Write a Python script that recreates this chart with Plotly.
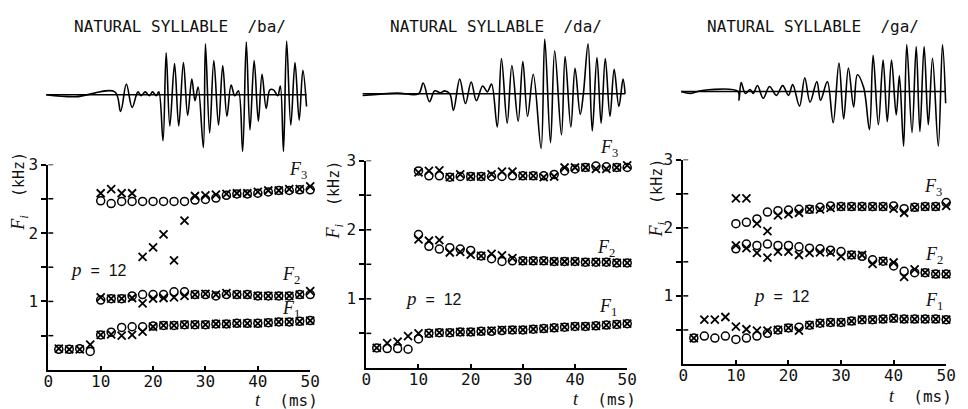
import plotly.graph_objects as go

# ---------------------------------------------------------------- data
T_MS = [2, 4, 6, 8, 10, 12, 14, 16, 18, 20, 22, 24, 26, 28, 30, 32, 34, 36, 38, 40, 42, 44, 46, 48, 50]

# /ba/  (o = circles, x = crosses), formant frequencies in kHz
BA_F1_O = [0.30, 0.30, 0.31, 0.27, 0.51, 0.55, 0.62, 0.63, 0.63, 0.64, 0.65, 0.65, 0.66, 0.66, 0.66, 0.67, 0.67, 0.68, 0.68, 0.68, 0.69, 0.70, 0.70, 0.71, 0.72]
BA_F1_X = [0.31, 0.30, 0.30, 0.37, 0.51, 0.52, 0.50, 0.51, 0.56, 0.63, 0.65, 0.65, 0.66, 0.66, 0.66, 0.67, 0.67, 0.68, 0.68, 0.68, 0.69, 0.70, 0.70, 0.71, 0.72]
BA_F2_O = [None, None, None, None, 1.02, 1.04, 1.04, 1.08, 1.10, 1.10, 1.10, 1.14, 1.14, 1.10, 1.10, 1.08, 1.10, 1.10, 1.10, 1.08, 1.08, 1.08, 1.08, 1.10, 1.10]
BA_F2_X = [None, None, None, None, 1.06, 1.04, 1.04, 1.05, 0.97, 1.04, 1.05, 1.06, 1.08, 1.10, 1.11, 1.10, 1.12, 1.10, 1.10, 1.08, 1.08, 1.08, 1.08, 1.10, 1.15]
BA_F3_O = [None, None, None, None, 2.47, 2.43, 2.46, 2.46, 2.46, 2.46, 2.46, 2.46, 2.46, 2.48, 2.49, 2.51, 2.55, 2.57, 2.57, 2.58, 2.60, 2.62, 2.62, 2.63, 2.63]
BA_F3_X = [None, None, None, None, 2.58, 2.64, 2.58, 2.58, 1.65, 1.79, 1.98, 1.60, 2.18, 2.54, 2.55, 2.56, 2.57, 2.58, 2.58, 2.60, 2.62, 2.62, 2.64, 2.64, 2.68]

# /da/
DA_F1_O = [0.29, 0.28, 0.28, 0.27, 0.42, 0.50, 0.51, 0.51, 0.52, 0.52, 0.53, 0.53, 0.54, 0.55, 0.55, 0.56, 0.57, 0.58, 0.59, 0.60, 0.60, 0.61, 0.62, 0.63, 0.64]
DA_F1_X = [0.29, 0.36, 0.38, 0.46, 0.50, 0.50, 0.51, 0.51, 0.52, 0.52, 0.53, 0.54, 0.55, 0.55, 0.55, 0.56, 0.57, 0.58, 0.59, 0.60, 0.60, 0.61, 0.62, 0.63, 0.64]
DA_F2_O = [None, None, None, None, 1.93, 1.76, 1.72, 1.74, 1.72, 1.70, 1.62, 1.58, 1.54, 1.55, 1.55, 1.55, 1.55, 1.54, 1.54, 1.54, 1.53, 1.53, 1.53, 1.52, 1.52]
DA_F2_X = [None, None, None, None, 1.86, 1.84, 1.85, 1.67, 1.68, 1.64, 1.62, 1.65, 1.63, 1.59, 1.55, 1.55, 1.55, 1.54, 1.54, 1.54, 1.53, 1.53, 1.53, 1.52, 1.52]
DA_F3_O = [None, None, None, None, 2.85, 2.78, 2.78, 2.76, 2.77, 2.77, 2.77, 2.77, 2.77, 2.78, 2.78, 2.78, 2.78, 2.80, 2.85, 2.88, 2.90, 2.92, 2.91, 2.90, 2.90]
DA_F3_X = [None, None, None, None, 2.83, 2.85, 2.86, 2.76, 2.80, 2.77, 2.77, 2.80, 2.84, 2.84, 2.78, 2.78, 2.76, 2.77, 2.90, 2.90, 2.90, 2.88, 2.88, 2.90, 2.93]

# /ga/
GA_F1_O = [0.38, 0.41, 0.38, 0.41, 0.36, 0.38, 0.41, 0.45, 0.50, 0.53, 0.54, 0.57, 0.60, 0.61, 0.61, 0.63, 0.65, 0.65, 0.66, 0.67, 0.66, 0.66, 0.66, 0.66, 0.65]
GA_F1_X = [0.38, 0.65, 0.65, 0.69, 0.55, 0.51, 0.49, 0.49, 0.50, 0.53, 0.49, 0.57, 0.60, 0.61, 0.61, 0.63, 0.65, 0.65, 0.66, 0.67, 0.66, 0.66, 0.66, 0.66, 0.65]
GA_F2_O = [None, None, None, None, 1.69, 1.76, 1.74, 1.76, 1.74, 1.74, 1.72, 1.70, 1.69, 1.67, 1.65, 1.60, 1.58, 1.53, 1.51, 1.44, 1.36, 1.34, 1.34, 1.32, 1.32]
GA_F2_X = [None, None, None, None, 1.74, 1.70, 1.63, 1.56, 1.65, 1.65, 1.60, 1.63, 1.64, 1.64, 1.58, 1.60, 1.60, 1.47, 1.51, 1.49, 1.28, 1.39, 1.34, 1.32, 1.32]
GA_F3_O = [None, None, None, None, 2.06, 2.08, 2.13, 2.23, 2.25, 2.26, 2.27, 2.27, 2.30, 2.32, 2.31, 2.31, 2.31, 2.31, 2.31, 2.32, 2.28, 2.30, 2.31, 2.31, 2.37]
GA_F3_X = [None, None, None, None, 2.43, 2.43, 2.06, 1.95, 2.18, 2.20, 2.22, 2.27, 2.27, 2.29, 2.31, 2.31, 2.31, 2.31, 2.31, 2.28, 2.22, 2.30, 2.31, 2.31, 2.32]

# speech waveforms: turning points (time in ms, relative amplitude)
BA_WAVE_T = [-0.4, 5.2, 12.7, 13.8, 14.9, 16.0, 17.1, 17.7, 18.5, 19.3, 19.9, 20.6, 21.1, 21.9, 22.5, 23.2, 24.1, 24.9, 25.8, 26.6,
             27.4, 28.0, 28.6, 29.6, 30.0, 30.8, 31.6, 32.5, 33.3, 34.1, 34.9, 35.6, 36.3, 37.1, 37.8, 38.5, 39.3, 40.1, 40.8, 41.6,
             42.3, 43.0, 43.8, 44.3, 44.9, 45.5, 46.3, 47.1, 47.9, 48.6, 49.3]
BA_WAVE_A = [0, -2, 3, -17, 11, -13, 3, -1, 3, -1, 3, -1, 3, -47, 43, -32, 32, -32, 33, -21,
             16, -6, 8, -54, 52, -39, 35, -31, 30, -22, 10, -1, 4, -58, 54, -36, 35, -27, 21, -14,
             5, 5, -1, 9, -58, 55, -31, 33, -26, 25, -12]

DA_WAVE_T = [-0.7, 5.9, 10.0, 10.9, 12.1, 13.1, 14.2, 15.0, 16.0, 16.7, 17.9, 19.0, 20.1, 21.1, 22.3, 23.2, 24.0, 25.1, 25.9, 27.0,
             27.9, 29.1, 30.0, 30.9, 32.0, 33.5, 34.2, 35.3, 36.1, 37.4, 38.1, 39.2, 40.0, 41.0, 41.6, 42.5, 43.3, 44.2, 45.0, 45.8,
             46.7, 47.5, 48.4, 49.2, 49.6]
DA_WAVE_A = [-1.7, 0.7, 0, 11, -8, 3, 1, 3, 0, -17, 15, -10, 12, -7, 8, 2, 10, -34, 36, -30,
             29, -28, 33, -23, 20, -56, 56, -50, 44, -42, 38, -34, 26, -21, 0, 51, -38, 37, -30, 36,
             -23, 25, -13, 15, 0]

GA_WAVE_T = [-0.4, 1.4, 3.6, 10.4, 10.6, 11.0, 11.8, 12.7, 13.3, 14.1, 15.2, 16.4, 17.7, 18.9, 20.0, 20.8, 22.1, 23.1, 24.1, 25.4,
             26.1, 27.4, 28.5, 29.6, 30.5, 31.4, 32.4, 33.1, 34.3, 35.4, 36.1, 37.1, 38.0, 38.8, 39.6, 40.5, 41.1, 41.9, 42.5, 43.5,
             44.3, 45.0, 45.8, 46.6, 47.4, 48.5, 49.3, 49.9]
GA_WAVE_A = [0, -2, 1, 0, -9, 9, -2, 2, -2, 6, -7, 5, -4, 6, -4, 7, -15, 14, -11, 10,
             -9, 10, -32, 29, -28, 24, -16, 17, 4, -39, 37, -34, 32, -31, 32, -24, 16, -56, 48, -42,
             46, -41, 46, -34, 34, -56, 48, -12]

TITLES = ["NATURAL\u00a0SYLLABLE\u00a0\u00a0/ba/", "NATURAL\u00a0SYLLABLE\u00a0\u00a0/da/", "NATURAL\u00a0SYLLABLE\u00a0\u00a0/ga/"]
X_TICKS = [0, 10, 20, 30, 40, 50]
Y_TICKS = [0.5, 1, 1.5, 2, 2.5, 3]
Y_TICK_TEXT = ["", "1", "", "2", "", "3"]
ORDER_LABEL = "p = 12"

SERIES = [
    (BA_F1_O, BA_F1_X, BA_F2_O, BA_F2_X, BA_F3_O, BA_F3_X),
    (DA_F1_O, DA_F1_X, DA_F2_O, DA_F2_X, DA_F3_O, DA_F3_X),
    (GA_F1_O, GA_F1_X, GA_F2_O, GA_F2_X, GA_F3_O, GA_F3_X),
]
WAVES = [(BA_WAVE_T, BA_WAVE_A), (DA_WAVE_T, DA_WAVE_A), (GA_WAVE_T, GA_WAVE_A)]

# ---------------------------------------------------------------- layout geometry (pixels)
W, H = 968, 409
PANELS = [
    dict(x0=44, x1=310, yb=369, yt=159, base=87.7,
         title=(178, 18), ylab=(15, 186), xlab=(286, 400), p=(95, 266),
         f3=(298, 165), f2=(291, 272), f1=(291, 307)),
    dict(x0=367, x1=632, yb=367, yt=155, base=86.7,
         title=(499, 18), ylab=(335, 195), xlab=(609, 399), p=(435, 296),
         f3=(614, 143), f2=(610, 245), f1=(612, 305)),
    dict(x0=689, x1=956, yb=363, yt=154, base=84.3,
         title=(821, 18), ylab=(663, 193), xlab=(930, 396), p=(789, 293),
         f3=(943, 183), f2=(944, 252), f1=(944, 299)),
]
WAVE_PAD_MS = 2
WAVE_HALF = 60

MONO = "DejaVu Sans Mono"
SERIF = "Liberation Serif"


def px(x):
    return x / W


def py(y):
    return 1 - y / H


fig = go.Figure()
annotations = []
shapes = []
layout = {}

for i, g in enumerate(PANELS):
    n = i + 1          # formant chart axes
    m = i + 4          # waveform axes
    xs, ys = ("" if n == 1 else str(n)), ("" if n == 1 else str(n))
    pxms = (g["x1"] - g["x0"]) / 50.0

    layout[f"xaxis{xs}"] = dict(
        domain=[px(g["x0"]), px(g["x1"])], range=[0, 50], anchor=f"y{ys}",
        showline=True, linewidth=2, linecolor="black", mirror=False,
        ticks="inside", ticklen=4, tickwidth=1.5, tickcolor="black",
        ticklabelstandoff=-4,
        tickvals=X_TICKS, tickfont=dict(family=MONO, size=16, color="#111"),
        showgrid=False, zeroline=False, fixedrange=True,
    )
    layout[f"yaxis{ys}"] = dict(
        domain=[py(g["yb"]), py(g["yt"])], range=[0, 3], anchor=f"x{xs}",
        showline=True, linewidth=2, linecolor="black",
        ticks="outside", ticklen=5, tickwidth=1.5, tickcolor="black",
        tickvals=Y_TICKS, ticktext=Y_TICK_TEXT,
        tickfont=dict(family=MONO, size=16, color="#111"),
        showgrid=False, zeroline=False, fixedrange=True,
    )
    # inner half of the tick marks, so they cross the axis line
    width_px = g["x1"] - g["x0"]
    for v in Y_TICKS:
        shapes.append(dict(type="line", xref=f"x{xs} domain", yref=f"y{ys}",
                           x0=0, x1=5 / width_px, y0=v, y1=v,
                           line=dict(color="black", width=1.5)))

    layout[f"xaxis{m}"] = dict(
        domain=[px(g["x0"] - WAVE_PAD_MS * pxms), px(g["x1"] + WAVE_PAD_MS * pxms)],
        range=[-WAVE_PAD_MS, 50 + WAVE_PAD_MS], anchor=f"y{m}", visible=False, fixedrange=True,
    )
    layout[f"yaxis{m}"] = dict(
        domain=[py(g["base"] + WAVE_HALF), py(g["base"] - WAVE_HALF)],
        range=[-WAVE_HALF, WAVE_HALF], anchor=f"x{m}", visible=False, fixedrange=True,
    )

    # waveform
    wt, wa = WAVES[i]
    fig.add_trace(go.Scatter(x=[wt[0], wt[-1]], y=[0, 0], mode="lines",
                             line=dict(color="black", width=1.4),
                             xaxis=f"x{m}", yaxis=f"y{m}", showlegend=False, hoverinfo="skip"))
    fig.add_trace(go.Scatter(x=wt, y=wa, mode="lines",
                             line=dict(color="black", width=1.6, shape="spline", smoothing=1.0),
                             xaxis=f"x{m}", yaxis=f"y{m}", showlegend=False, hoverinfo="skip"))

    # formant tracks
    f1o, f1x, f2o, f2x, f3o, f3x = SERIES[i]
    for vals in (f1o, f2o, f3o):
        fig.add_trace(go.Scatter(
            x=T_MS, y=vals, mode="markers", cliponaxis=False,
            marker=dict(symbol="circle-open", size=8, color="black", line=dict(width=1.5, color="black")),
            xaxis=f"x{xs}", yaxis=f"y{ys}", showlegend=False))
    for vals in (f1x, f2x, f3x):
        fig.add_trace(go.Scatter(
            x=T_MS, y=vals, mode="markers", cliponaxis=False,
            marker=dict(symbol="x-thin-open", size=8, color="black", line=dict(width=1.8, color="black")),
            xaxis=f"x{xs}", yaxis=f"y{ys}", showlegend=False))

    def ann(pos, text, size, family, angle=0):
        annotations.append(dict(
            x=px(pos[0]), y=py(pos[1]), xref="paper", yref="paper", text=text,
            showarrow=False, textangle=angle, xanchor="center", yanchor="middle",
            font=dict(family=family, size=size, color="#111")))

    ann(g["title"], TITLES[i], 16, MONO)
    ann(g["ylab"], f'<span style="font-family:{SERIF};font-size:18px"><i>F</i><sub><i>i</i></sub></span>'
                   '\u00a0\u00a0(kHz)', 15, MONO, angle=-90)
    ann(g["xlab"], f'<span style="font-family:{SERIF};font-size:18px"><i>t</i></span>\u00a0\u00a0(ms)', 16, MONO)
    order_rest = ORDER_LABEL[1:].replace(" ", "\u00a0\u00a0")
    ann(g["p"], f'<span style="font-family:{SERIF};font-size:19px"><i>p</i></span>'
                f'{order_rest}', 16, "Liberation Sans")
    for key, k in (("f3", "3"), ("f2", "2"), ("f1", "1")):
        ann(g[key], f"<i>F</i><sub>{k}</sub>", 18, SERIF)

fig.update_layout(
    width=W, height=H, margin=dict(l=0, r=0, t=0, b=0),
    paper_bgcolor="white", plot_bgcolor="rgba(0,0,0,0)",
    annotations=annotations, shapes=shapes, **layout,
)

fig.write_html("out.html")
